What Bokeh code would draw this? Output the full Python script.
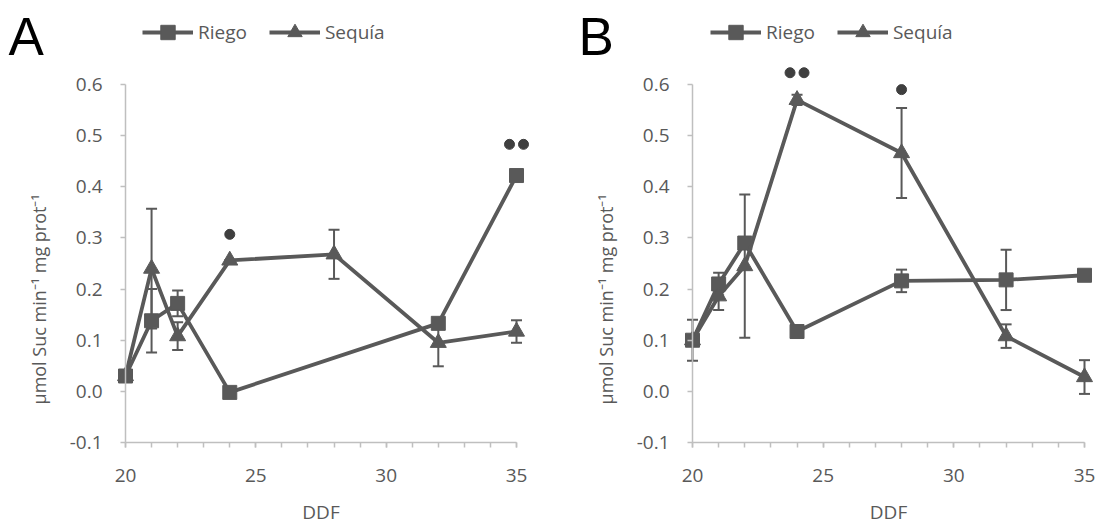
import math
from bokeh.plotting import figure
from bokeh.layouts import row
from bokeh.models import (Range1d, SingleIntervalTicker, FixedTicker, NumeralTickFormatter,
                          Whisker, ColumnDataSource, TeeHead, Legend, LegendItem, Label)
from bokeh.embed import file_html
from bokeh.resources import INLINE

# ---- Panel A ----
days_a_riego = [20, 21, 22, 24, 32, 35]
riego_a = [0.030, 0.138, 0.172, -0.002, 0.133, 0.422]
riego_a_err = [0.0, 0.062, 0.025, 0.0, 0.010, 0.010]

days_a_sequia = [20, 21, 22, 24, 28, 32, 35]
sequia_a = [0.030, 0.240, 0.108, 0.256, 0.268, 0.095, 0.117]
sequia_a_err = [0.0, 0.117, 0.027, 0.0, 0.048, 0.046, 0.022]

sig_a_x = [24, 35]
sig_a_y = [0.307, 0.483]
sig_a_n = [1, 2]

# ---- Panel B ----
days_b = [20, 21, 22, 24, 28, 32, 35]
riego_b = [0.100, 0.210, 0.290, 0.117, 0.216, 0.218, 0.227]
riego_b_err = [0.040, 0.022, 0.0, 0.0, 0.022, 0.059, 0.0]
sequia_b = [0.100, 0.186, 0.245, 0.570, 0.466, 0.108, 0.028]
sequia_b_err = [0.0, 0.027, 0.140, 0.010, 0.088, 0.023, 0.033]

sig_b_x = [24, 28]
sig_b_y = [0.623, 0.590]
sig_b_n = [2, 1]

x_ticks_span = (20, 35)
y_ticks = [-0.1, 0.0, 0.1, 0.2, 0.3, 0.4, 0.5, 0.6]
x_title = "DDF"
y_title = "µmol Suc min⁻¹ mg prot⁻¹"

FONT = "Open Sans"
GREY = "#595959"
AXIS_GREY = "#bfbfbf"
DOT = "#3f3f3f"

HEIGHT = 523
Y_BOTTOM_PX = 442       # pixel row of the lowest tick (-0.1), from the top
Y_TOP_PX = 84           # pixel row of the top tick (0.6), from the top


def make_panel(letter, rx, ry, re, sx, sy, se, sig_x, sig_y, sig_n,
               width, axis_px, right_px, legend_x, letter_x):
    # the drawing area covers the whole figure; both axes are pinned to the
    # corner of the data window and bounded to it
    x0, x1 = x_ticks_span
    ppu_x = (right_px - axis_px) / (x1 - x0)
    y0, y1 = y_ticks[0], y_ticks[-1]
    ppu_y = (Y_BOTTOM_PX - Y_TOP_PX) / (y1 - y0)

    p = figure(width=width, height=HEIGHT, output_backend="svg", toolbar_location=None,
               x_range=Range1d(x0 - axis_px / ppu_x, x0 + (width - axis_px) / ppu_x),
               y_range=Range1d(y0 - (HEIGHT - Y_BOTTOM_PX) / ppu_y, y0 + Y_BOTTOM_PX / ppu_y),
               min_border_left=0, min_border_right=0,
               min_border_top=0, min_border_bottom=0)
    p.outline_line_color = None
    p.grid.visible = False
    p.background_fill_color = "white"
    p.border_fill_color = "white"

    # axes
    p.xaxis.ticker = SingleIntervalTicker(interval=5, num_minor_ticks=5)
    p.xaxis.bounds = (x0, x1)
    p.xaxis.fixed_location = y0
    p.yaxis.ticker = FixedTicker(ticks=y_ticks)
    p.yaxis.bounds = (y0, y1)
    p.yaxis.fixed_location = x0
    p.yaxis.formatter = NumeralTickFormatter(format="0.0")
    for ax in (p.xaxis[0], p.yaxis[0]):
        ax.axis_line_color = AXIS_GREY
        ax.axis_line_width = 1.5
        ax.major_tick_line_color = AXIS_GREY
        ax.minor_tick_line_color = AXIS_GREY
        ax.major_tick_line_width = 1.5
        ax.minor_tick_line_width = 1.5
        ax.major_tick_in = 0
        ax.major_tick_out = 5
        ax.minor_tick_in = 0
        ax.minor_tick_out = 5
        ax.major_label_text_font = FONT
        ax.major_label_text_font_size = "19px"
        ax.major_label_text_color = GREY
    p.yaxis.minor_tick_line_color = None
    p.xaxis.major_label_standoff = 21
    p.yaxis.major_label_standoff = 18

    # axis titles
    p.add_layout(Label(x=(x0 + x1) / 2, x_units="data", y=HEIGHT - 511, y_units="screen",
                       text=x_title, text_font=FONT, text_font_size="19px",
                       text_color=GREY, text_align="center", text_baseline="middle"))
    p.add_layout(Label(x=axis_px - 87, x_units="screen", y=HEIGHT - 404, y_units="screen",
                       angle=math.pi / 2, text=y_title, text_font=FONT,
                       text_font_size="18px", text_color=GREY,
                       text_align="left", text_baseline="middle"))

    # series
    src_r = ColumnDataSource(dict(x=rx, y=ry, lo=[v - e for v, e in zip(ry, re)],
                                  hi=[v + e for v, e in zip(ry, re)]))
    src_s = ColumnDataSource(dict(x=sx, y=sy, lo=[v - e for v, e in zip(sy, se)],
                                  hi=[v + e for v, e in zip(sy, se)]))

    for src in (src_r, src_s):
        w = Whisker(source=src, base="x", upper="hi", lower="lo",
                    line_color=GREY, line_width=2,
                    upper_head=TeeHead(size=11, line_color=GREY, line_width=2),
                    lower_head=TeeHead(size=11, line_color=GREY, line_width=2))
        p.add_layout(w)

    lr = p.line("x", "y", source=src_r, line_color=GREY, line_width=3.8)
    mr = p.scatter("x", "y", source=src_r, marker="square", size=14,
                   fill_color=GREY, line_color=GREY)
    ls = p.line("x", "y", source=src_s, line_color=GREY, line_width=3.8)
    ms = p.scatter("x", "y", source=src_s, marker="triangle", size=16,
                   fill_color=GREY, line_color=GREY)

    # significance dots (one or two per day), pairs 14 px apart
    half_gap = 7 / ppu_x
    dx, dy = [], []
    for x, y, n in zip(sig_x, sig_y, sig_n):
        offs = [0.0] if n == 1 else [-half_gap, half_gap]
        for o in offs:
            dx.append(x + o)
            dy.append(y)
    p.scatter(dx, dy, marker="circle", size=10, fill_color=DOT, line_color=DOT)

    legend = Legend(items=[LegendItem(label="Riego", renderers=[lr, mr]),
                           LegendItem(label="Sequía", renderers=[ls, ms])],
                    location=(legend_x, HEIGHT - 50), orientation="horizontal",
                    glyph_width=51, glyph_height=36, label_standoff=5, spacing=22,
                    padding=0, margin=0, border_line_alpha=0, background_fill_alpha=0,
                    label_text_font=FONT, label_text_font_size="19px",
                    label_text_color=GREY)
    p.add_layout(legend)

    p.add_layout(Label(x=letter_x, y=HEIGHT - 36, x_units="screen", y_units="screen",
                       text=letter, text_font="Liberation Sans", text_font_size="53px",
                       text_color="black", text_baseline="middle"))
    return p


pa = make_panel("A", days_a_riego, riego_a, riego_a_err,
                days_a_sequia, sequia_a, sequia_a_err,
                sig_a_x, sig_a_y, sig_a_n, width=548, axis_px=125, right_px=516,
                legend_x=142, letter_x=8)
pb = make_panel("B", days_b, riego_b, riego_b_err,
                days_b, sequia_b, sequia_b_err,
                sig_b_x, sig_b_y, sig_b_n, width=549, axis_px=144, right_px=536,
                legend_x=162, letter_x=30)

layout = row(pa, pb)
open("out.html", "w").write(file_html(layout, INLINE))
